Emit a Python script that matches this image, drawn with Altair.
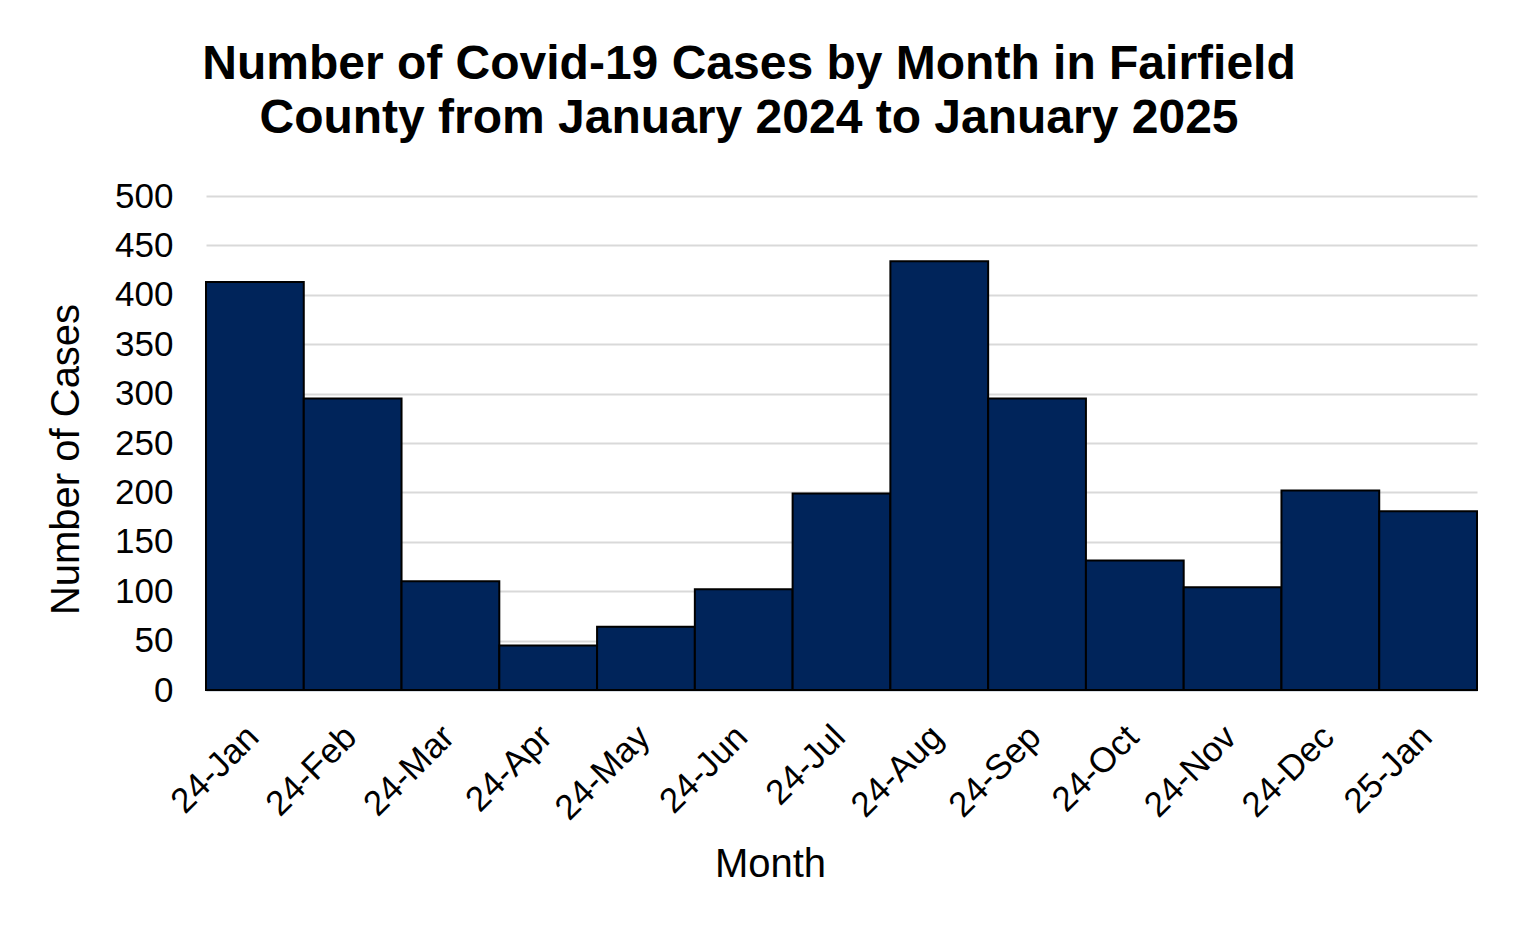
import altair as alt
import pandas as pd

months = ["24-Jan", "24-Feb", "24-Mar", "24-Apr", "24-May", "24-Jun", "24-Jul",
          "24-Aug", "24-Sep", "24-Oct", "24-Nov", "24-Dec", "25-Jan"]
cases = [413, 295, 110, 45, 64, 102, 199, 434, 295, 131, 104, 202, 181]
y_ticks = [0, 50, 100, 150, 200, 250, 300, 350, 400, 450, 500]

df = pd.DataFrame({"Month": months, "Cases": cases})

FONT = "Liberation Sans"

chart = alt.Chart(df).mark_bar(
    color="#00245a", stroke="#000000", strokeWidth=2
).encode(
    x=alt.X("Month:N", sort=months,
            scale=alt.Scale(paddingInner=0, paddingOuter=0),
            axis=alt.Axis(title="Month", labelAngle=-45, labelFontSize=35,
                          labelFont=FONT, labelColor="#000000", labelPadding=29,
                          labelOffset=-14, grid=False,
                          ticks=False, domain=True, domainColor="#c5cfdd",
                          domainWidth=2, titleFontSize=40, titleFont=FONT,
                          titleFontWeight="normal", titleColor="#000000",
                          titleX=564, titleY=186, titleAnchor="start",
                          titleAlign="center", titleBaseline="alphabetic")),
    y=alt.Y("Cases:Q", scale=alt.Scale(domain=[0, 500], nice=False),
            axis=alt.Axis(title="Number of Cases", values=y_ticks, labelFontSize=35,
                          labelFont=FONT, labelColor="#000000", labelPadding=33,
                          ticks=False, domain=False, gridColor="#d9d9d9",
                          gridWidth=2, titleFontSize=40, titleFont=FONT,
                          titleFontWeight="normal", titleColor="#000000",
                          titleX=-128, titleY=263, titleAlign="center",
                          titleBaseline="alphabetic")),
).properties(
    width=1271,
    height=494,
    background="#ffffff",
    title=alt.TitleParams(
        text=["Number of Covid-19 Cases by Month in Fairfield",
              "County from January 2024 to January 2025"],
        font=FONT, fontSize=48, fontWeight="bold", color="#000000",
        anchor="middle", frame="bounds", offset=36, lineHeight=54, dx=-13),
    padding={"left": 37, "top": 33, "right": 40, "bottom": 40},
).configure_view(strokeWidth=0, stroke="transparent")

chart.save("out.html", embed_options={"renderer": "svg", "actions": False})
